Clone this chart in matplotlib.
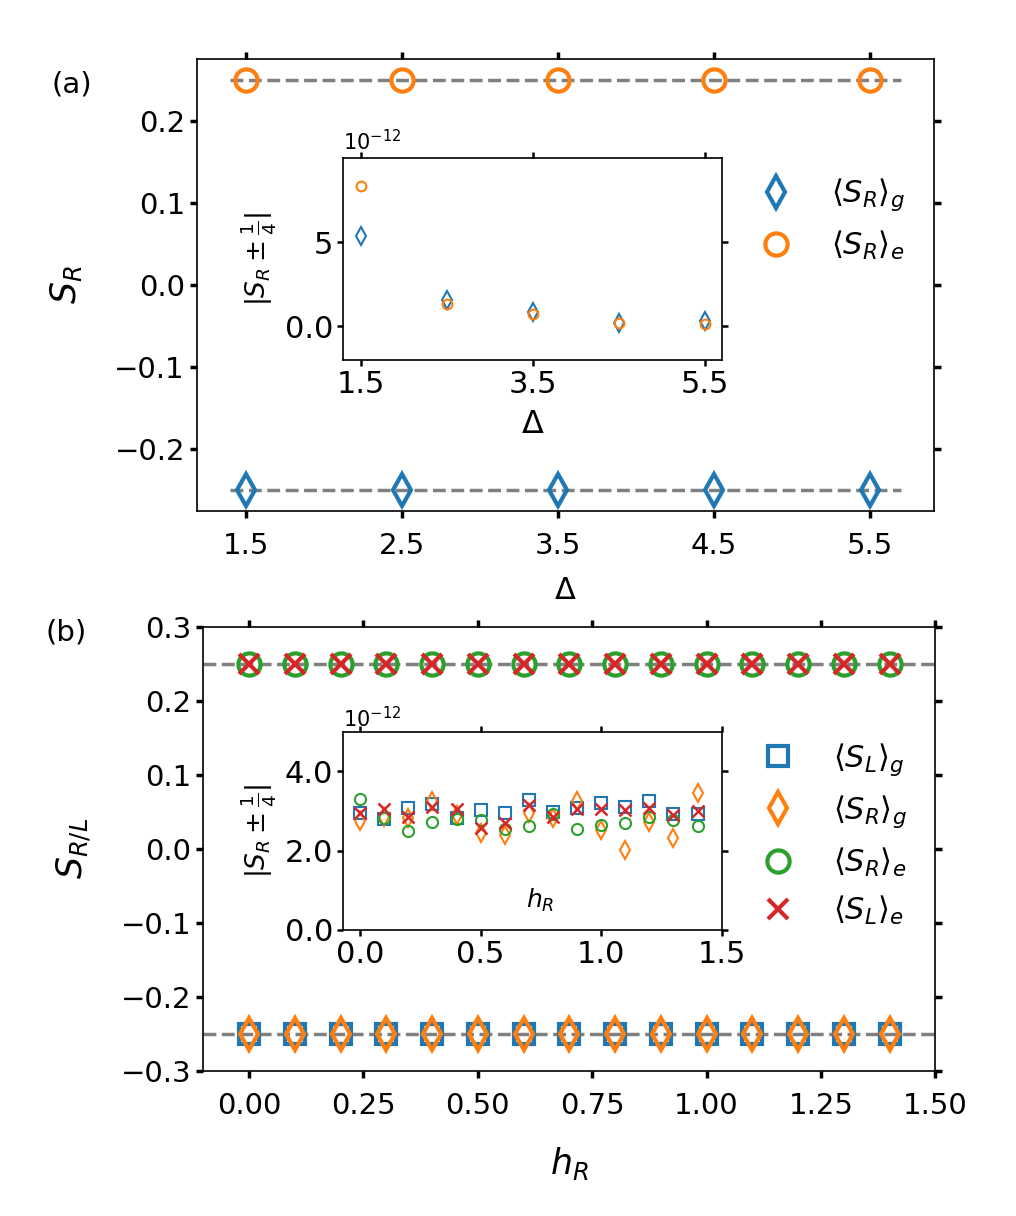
import matplotlib
matplotlib.use("Agg")
import matplotlib.pyplot as plt

# panel (a) data
delta = [1.5, 2.5, 3.5, 4.5, 5.5]
sr_g_main = [-0.25, -0.25, -0.25, -0.25, -0.25]
sr_e_main = [0.25, 0.25, 0.25, 0.25, 0.25]
# inset (a), units of 1e-12
sr_g_dev = [5.36, 1.59, 0.83, 0.20, 0.30]
sr_e_dev = [8.33, 1.33, 0.75, 0.20, 0.14]

# panel (b) data
h_r = [0.0, 0.1, 0.2, 0.3, 0.4, 0.5, 0.6, 0.7, 0.8, 0.9, 1.0, 1.1, 1.2, 1.3, 1.4]
sl_g_main = [-0.25] * 15
sr_g_main_b = [-0.25] * 15
sr_e_main_b = [0.25] * 15
sl_e_main = [0.25] * 15
# inset (b), units of 1e-12
sl_g_dev = [2.94, 2.79, 3.08, 3.18, 2.82, 3.03, 2.94, 3.28, 2.97, 3.08, 3.21, 3.11, 3.24, 2.92, 2.92]
sr_g_dev_b = [2.76, 2.86, 2.82, 3.26, 2.90, 2.44, 2.39, 2.94, 2.82, 3.24, 2.52, 2.02, 2.73, 2.31, 3.45]
sr_e_dev_b = [3.31, 2.82, 2.50, 2.73, 2.79, 2.77, 2.54, 2.62, 2.92, 2.54, 2.65, 2.71, 2.86, 2.77, 2.63]
sl_e_dev = [2.96, 3.04, 2.84, 3.09, 3.04, 2.56, 2.71, 3.15, 2.86, 3.04, 3.04, 3.03, 3.07, 2.89, 3.00]

plt.rcParams['font.size'] = 20
plt.rcParams['axes.linewidth'] = 1.2

fig = plt.figure(figsize=(10.16, 12.16), dpi=100)


def style_ticks(ax):
    ax.tick_params(direction='out', length=5, width=2.5, top=True, right=True,
                   labelsize=21)
    ax.tick_params(axis='x', pad=10)


# ---------------- panel (a) ----------------
ax1 = fig.add_axes([0.1936, 0.580, 0.726, 0.3712])
ax1.plot([1.4, 5.7], [0.25, 0.25], '--', color='gray', lw=2.5)
ax1.plot([1.4, 5.7], [-0.25, -0.25], '--', color='gray', lw=2.5)
ax1.plot(delta, sr_g_main, 'd', color='C0', ms=16, mew=3, fillstyle='none',
         label=r'$\langle S_R\rangle_g$')
ax1.plot(delta, sr_e_main, 'o', color='C1', ms=16, mew=3, fillstyle='none',
         label=r'$\langle S_R\rangle_e$')
ax1.set_xticks(delta)
ax1.set_yticks([-0.2, -0.1, 0.0, 0.1, 0.2])
style_ticks(ax1)
ax1.set_xlabel(r'$\Delta$', fontsize=22, labelpad=12)
ax1.set_ylabel(r'$S_R$', fontsize=25, labelpad=22)
ax1.legend(loc='center left', bbox_to_anchor=(0.707, 0.646), frameon=False, fontsize=22)

ins1 = fig.add_axes([0.3379, 0.7039, 0.373, 0.1659])
ins1.plot(delta, sr_g_dev, 'd', color='C0', ms=9, mew=1.5, fillstyle='none')
ins1.plot(delta, sr_e_dev, 'o', color='C1', ms=7, mew=1.5, fillstyle='none')
ins1.set_xlim(1.3, 5.7)
ins1.set_ylim(-2, 10)
ins1.set_xticks([1.5, 3.5, 5.5])
ins1.set_yticks([0, 5])
ins1.set_yticklabels(['0.0', '5'])
ins1.tick_params(direction='out', length=4, width=1.8, top=True, right=True, labelsize=22)
ins1.set_xlabel(r'$\Delta$', fontsize=23, labelpad=7)
ins1.set_ylabel(r'$|S_R \pm \frac{1}{4}|$', fontsize=19)
ins1.text(0.0, 1.02, r'$10^{-12}$', transform=ins1.transAxes, fontsize=15,
          ha='left', va='bottom')

# ---------------- panel (b) ----------------
ax2 = fig.add_axes([0.2001, 0.1195, 0.7205, 0.3651])
ax2.plot([-0.1, 1.5], [0.25, 0.25], '--', color='gray', lw=2.5)
ax2.plot([-0.1, 1.5], [-0.25, -0.25], '--', color='gray', lw=2.5)
ax2.plot(h_r, sl_g_main, 's', color='C0', ms=15, mew=3, fillstyle='none',
         label=r'$\langle S_L\rangle_g$')
ax2.plot(h_r, sr_g_main_b, 'd', color='C1', ms=16, mew=3, fillstyle='none',
         label=r'$\langle S_R\rangle_g$')
ax2.plot(h_r, sr_e_main_b, 'o', color='C2', ms=16, mew=3, fillstyle='none',
         label=r'$\langle S_R\rangle_e$')
ax2.plot(h_r, sl_e_main, 'x', color='C3', ms=15, mew=3,
         label=r'$\langle S_L\rangle_e$')
ax2.set_xlim(-0.1, 1.5)
ax2.set_ylim(-0.3, 0.3)
ax2.set_xticks([0.0, 0.25, 0.5, 0.75, 1.0, 1.25, 1.5])
ax2.set_yticks([-0.3, -0.2, -0.1, 0.0, 0.1, 0.2, 0.3])
style_ticks(ax2)
ax2.set_xlabel(r'$h_R$', fontsize=25, labelpad=18)
ax2.set_ylabel(r'$S_{R/L}$', fontsize=25, labelpad=20)
ax2.legend(loc='center left', bbox_to_anchor=(0.706, 0.533), frameon=False, fontsize=22)

ins2 = fig.add_axes([0.3379, 0.2352, 0.3724, 0.1631])
ins2.plot(h_r, sl_g_dev, 's', color='C0', ms=8, mew=1.5, fillstyle='none')
ins2.plot(h_r, sr_g_dev_b, 'd', color='C1', ms=9, mew=1.5, fillstyle='none')
ins2.plot(h_r, sr_e_dev_b, 'o', color='C2', ms=8, mew=1.5, fillstyle='none')
ins2.plot(h_r, sl_e_dev, 'x', color='C3', ms=8, mew=1.8)
ins2.set_xlim(-0.07, 1.5)
ins2.set_ylim(0, 5)
ins2.set_xticks([0.0, 0.5, 1.0, 1.5])
ins2.set_yticks([0, 2, 4])
ins2.set_yticklabels(['0.0', '2.0', '4.0'])
ins2.tick_params(direction='out', length=4, width=1.8, top=True, right=True, labelsize=22)
ins2.set_xlabel(r'$h_R$', fontsize=18)
ins2.xaxis.set_label_coords(0.52, 0.22)
ins2.set_ylabel(r'$|S_R \pm \frac{1}{4}|$', fontsize=19)
ins2.text(0.0, 1.0, r'$10^{-12}$', transform=ins2.transAxes, fontsize=15,
          ha='left', va='bottom')

fig.text(0.0706, 0.9305, '(a)', fontsize=21, ha='center', va='center')
fig.text(0.0648, 0.4799, '(b)', fontsize=21, ha='center', va='center')

fig.savefig('out.png', dpi=100)
